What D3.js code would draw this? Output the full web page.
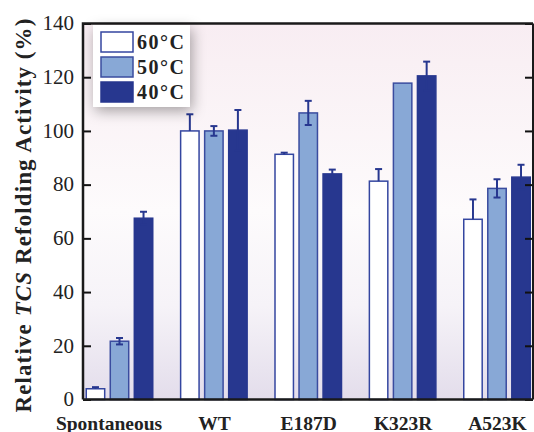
<!DOCTYPE html>
<html><head><meta charset="utf-8">
<script src="https://cdn.jsdelivr.net/npm/d3@7"></script>
<style>body{margin:0;background:#fff}svg{display:block}</style>
</head><body>
<script>
const categories = ["Spontaneous", "WT", "E187D", "K323R", "A523K"];
const seriesNames = ["60°C", "50°C", "40°C"];
const values60 = [4, 100, 91.3, 81.3, 67.1];
const values50 = [21.7, 100, 106.7, 117.8, 78.6];
const values40 = [67.5, 100.3, 84, 120.5, 82.8];
const err60 = [0.6, 6.2, 0.6, 4.5, 7.4];
const err50 = [1.2, 1.8, 4.5, 0, 3.4];
const err40 = [2.4, 7.5, 1.6, 5.3, 4.6];
const yTicks = [0, 20, 40, 60, 80, 100, 120, 140];

const fills = ["#ffffff", "#88a8d6", "#27378f"];
const strokes = ["#3446a0", "#3a4c9f", "#27378f"];
const W = 534, H = 432;
const x0 = 83, x1 = 533, yTop = 23.5, yBot = 399.5;
const serif = "Liberation Serif, Times New Roman, serif";

const svg = d3.select("body").append("svg").attr("width", W).attr("height", H);
const defs = svg.append("defs");
const grad = defs.append("linearGradient").attr("id","bg").attr("x1",0).attr("y1",0).attr("x2",0).attr("y2",1);
grad.append("stop").attr("offset","0%").attr("stop-color","#f8edf2");
grad.append("stop").attr("offset","50%").attr("stop-color","#fdfbfc");
grad.append("stop").attr("offset","75%").attr("stop-color","#f6f3f8");
grad.append("stop").attr("offset","100%").attr("stop-color","#e3ddeb");
const filt = defs.append("filter").attr("id","shadow").attr("x","-40%").attr("y","-40%").attr("width","180%").attr("height","180%");
filt.append("feDropShadow").attr("dx",2).attr("dy",4).attr("stdDeviation",7).attr("flood-color","#000").attr("flood-opacity",0.35);

const y = d3.scaleLinear().domain([0, 140]).range([yBot, yTop]);
const xg = d3.scalePoint().domain(categories).range([119.5, 497]);
const xs = d3.scaleBand().domain(seriesNames).range([-34, 34]).paddingInner(0.17);

svg.append("rect").attr("x", x0).attr("y", yTop).attr("width", x1 - x0).attr("height", yBot - yTop).attr("fill", "url(#bg)");

const series = [values60, values50, values40];
const errs = [err60, err50, err40];

const groups = svg.append("g").selectAll("g").data(categories).join("g")
  .attr("transform", d => `translate(${xg(d)},0)`);

seriesNames.forEach((s, si) => {
  const v = d => series[si][categories.indexOf(d)];
  const e = d => errs[si][categories.indexOf(d)];
  groups.append("rect")
    .attr("x", xs(s) + 0.75)
    .attr("width", xs.bandwidth() - 1.5)
    .attr("y", d => y(v(d)))
    .attr("height", d => yBot - y(v(d)))
    .attr("fill", fills[si]).attr("stroke", strokes[si]).attr("stroke-width", 1.5);
  const eg = groups.append("g").attr("stroke", "#27378f").attr("stroke-width", 2)
    .filter(d => e(d) > 0);
  const cx = xs(s) + xs.bandwidth() / 2;
  eg.append("line").attr("x1", cx).attr("x2", cx)
    .attr("y1", d => si === 0 ? y(v(d)) : y(v(d) - e(d)))
    .attr("y2", d => y(v(d) + e(d)));
  eg.append("line").attr("x1", cx - 3.5).attr("x2", cx + 3.5)
    .attr("y1", d => y(v(d) + e(d))).attr("y2", d => y(v(d) + e(d)));
  eg.filter(() => si !== 0).append("line").attr("x1", cx - 3.5).attr("x2", cx + 3.5)
    .attr("y1", d => y(v(d) - e(d))).attr("y2", d => y(v(d) - e(d)));
});

// Axes
const yAxisL = svg.append("g").attr("transform", `translate(${x0},0)`)
  .call(d3.axisLeft(y).tickValues(yTicks).tickSize(-8).tickPadding(9));
yAxisL.select(".domain").remove();
yAxisL.selectAll("line").attr("stroke", "#111").attr("stroke-width", 2);
yAxisL.selectAll("text").attr("font-family", serif).attr("font-size", 21).attr("fill", "#222").attr("dy", "0.3em");

const yAxisR = svg.append("g").attr("transform", `translate(${x1},0)`)
  .call(d3.axisRight(y).tickValues(yTicks).tickSize(-8).tickFormat(""));
yAxisR.select(".domain").remove();
yAxisR.selectAll("line").attr("stroke", "#111").attr("stroke-width", 2);

const xAxis = svg.append("g").attr("transform", `translate(0,${yBot})`)
  .call(d3.axisBottom(xg).tickSize(0));
xAxis.select(".domain").remove();
xAxis.selectAll("text").attr("font-family", serif).attr("font-size", 19.5).attr("font-weight", "bold").attr("fill", "#222")
  .attr("y", 30).attr("dy", 0)
  .attr("dx", d => d === "Spontaneous" ? -11 : 0);

// Frame
svg.append("path").attr("d", `M${x0},${yBot}V${yTop}H${x1}`).attr("fill","none").attr("stroke","#1a1a1a").attr("stroke-width",2.5);
svg.append("line").attr("x1", x0).attr("x2", x1).attr("y1", yBot).attr("y2", yBot).attr("stroke","#1a1a1a").attr("stroke-width",2.5);
svg.append("line").attr("x1", x1).attr("x2", x1).attr("y1", yTop).attr("y2", yBot).attr("stroke","#1a1a1a").attr("stroke-width",2);

// Y label
svg.append("text").attr("transform", `translate(31,215) rotate(-90)`)
  .attr("text-anchor", "middle").attr("font-family", serif).attr("font-size", 23).attr("font-weight", "bold").attr("fill", "#222")
  .attr("letter-spacing", 1.1)
  .call(t => { t.append("tspan").text("Relative "); t.append("tspan").attr("font-style","italic").text("TCS"); t.append("tspan").text(" Refolding Activity (%)"); });

// Legend
const lg = svg.append("g").attr("transform", "translate(93,25)");
lg.append("rect").attr("width", 97).attr("height", 82).attr("fill", "#fff").attr("filter", "url(#shadow)");
lg.append("rect").attr("width", 97).attr("height", 82).attr("fill", "#fff");
seriesNames.forEach((s, i) => {
  const g = lg.append("g").attr("transform", `translate(8,${7 + i * 25})`);
  g.append("rect").attr("width", 32).attr("height", 20).attr("fill", fills[i]).attr("stroke", strokes[i]).attr("stroke-width", 1.5);
  g.append("text").attr("x", 36).attr("y", 17).attr("font-family", serif).attr("font-size", 20).attr("font-weight", "bold").attr("fill", "#222")
    .attr("letter-spacing", 1.5).text(s);
});
</script>
</body></html>
